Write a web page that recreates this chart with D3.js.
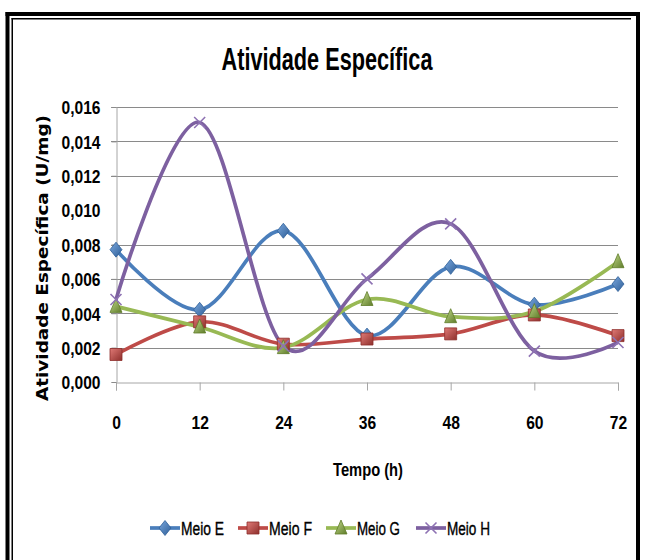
<!DOCTYPE html>
<html>
<head>
<meta charset="utf-8">
<script src="https://cdn.jsdelivr.net/npm/d3@7"></script>
<style>
  html, body { margin: 0; padding: 0; background: #fff; }
  svg { display: block; }
</style>
</head>
<body>
<svg id="chart" width="646" height="560"></svg>
<script>
// Tempo de cultivo (h)
const hours = [0, 12, 24, 36, 48, 60, 72];

// Atividade específica (U/mg) por meio de cultivo
const meioE = [0.0077, 0.0042, 0.0088, 0.0027, 0.0067, 0.0045, 0.0057];
const meioF = [0.0016, 0.0035, 0.0022, 0.0025, 0.0028, 0.0039, 0.0027];
const meioG = [0.0044, 0.0032, 0.0020, 0.0048, 0.0038, 0.0041, 0.0070];
const meioH = [0.0048, 0.0151, 0.0021, 0.0060, 0.0092, 0.0018, 0.0023];

const seriesNames = ["Meio E", "Meio F", "Meio G", "Meio H"];
const yTicks = [0, 0.002, 0.004, 0.006, 0.008, 0.010, 0.012, 0.014, 0.016];

const seriesValues = [meioE, meioF, meioG, meioH];
const lineColors = ["#4A7EBB", "#BE4B48", "#98B954", "#7D60A0"];
const markerKinds = ["diamond", "square", "triangle", "x"];

const svg = d3.select("#chart");
const W = 646, H = 560;

const narrow = "'Liberation Sans Narrow', 'Arial Narrow', 'Liberation Sans', Arial, sans-serif";

// fit a text element to a given width
function fit(sel, w) {
  sel.attr("textLength", w).attr("lengthAdjust", "spacingAndGlyphs");
}

// page frame (thick-thin border)
const frame = svg.append("g").attr("fill", "#000");
frame.append("rect").attr("x", 5.5).attr("y", 12).attr("width", 4).attr("height", H - 12);
frame.append("rect").attr("x", 11.5).attr("y", 18).attr("width", 1.5).attr("height", H - 18);
frame.append("rect").attr("x", 5.5).attr("y", 12).attr("width", 636 - 5.5).attr("height", 4);
frame.append("rect").attr("x", 11.5).attr("y", 18).attr("width", 631 - 11.5).attr("height", 1.5);
frame.append("rect").attr("x", 636).attr("y", 12).attr("width", 4).attr("height", H - 12);

// scales
const x = d3.scalePoint().domain(hours).range([116, 618]);
const y = d3.scaleLinear().domain([0, 0.016]).range([382, 107]);

const locale = d3.formatLocale({ decimal: ",", thousands: ".", grouping: [3], currency: ["R$", ""] });
const fmt = locale.format(".3f");

// title
svg.append("text")
  .attr("x", 327).attr("y", 70)
  .attr("text-anchor", "middle")
  .attr("font-family", narrow)
  .attr("font-size", 32)
  .attr("font-weight", "bold")
  .attr("fill", "#000")
  .text("Atividade Específica")
  .call(fit, 211);

// horizontal gridlines
const grid = svg.append("g");
grid.selectAll("line")
  .data(yTicks.filter(t => t > 0 && Math.abs(t - 0.010) > 1e-9))
  .join("line")
  .attr("x1", 111).attr("x2", 618)
  .attr("y1", d => Math.round(y(d)) + 0.5).attr("y2", d => Math.round(y(d)) + 0.5)
  .attr("stroke", "#8a8a8a").attr("stroke-width", 1);

// y axis
const yAxis = svg.append("g")
  .attr("transform", "translate(116.5,0)")
  .call(d3.axisLeft(y).tickValues(yTicks).tickFormat(fmt).tickSize(5).tickPadding(11));
yAxis.select(".domain").attr("stroke", "#a6a6a6");
yAxis.selectAll(".tick line").attr("stroke", "#8a8a8a")
  .attr("opacity", d => Math.abs(d - 0.010) < 1e-9 ? 0 : 1);
yAxis.selectAll(".tick text")
  .attr("font-family", narrow).attr("font-size", 19).attr("font-weight", "bold")
  .attr("fill", "#000").attr("dy", "0.36em")
  .call(fit, 39);

// x axis
const xAxis = svg.append("g")
  .attr("transform", "translate(0,382.5)")
  .call(d3.axisBottom(x).tickSize(8).tickPadding(25));
xAxis.select(".domain").attr("stroke", "#a6a6a6");
xAxis.selectAll(".tick line").attr("stroke", "#a6a6a6");
xAxis.selectAll(".tick text")
  .attr("font-family", narrow).attr("font-size", 19).attr("font-weight", "bold")
  .attr("fill", "#000")
  .each(function(d) { d3.select(this).call(fit, String(d).length * 8.7); });

// axis titles
svg.append("text")
  .attr("transform", "translate(48,258) rotate(-90)")
  .attr("text-anchor", "middle")
  .attr("font-family", "'DejaVu Sans', Verdana, sans-serif")
  .attr("font-weight", "bold").attr("font-size", 15.5)
  .attr("fill", "#000")
  .text("Atividade Específica (U/mg)")
  .call(fit, 286);

svg.append("text")
  .attr("x", 368).attr("y", 476)
  .attr("text-anchor", "middle")
  .attr("font-family", narrow).attr("font-size", 19)
  .attr("font-weight", "bold")
  .attr("fill", "#000")
  .text("Tempo (h)")
  .call(fit, 70);

// marker gradients
const defs = svg.append("defs");
const gradStops = [
  ["#7AA7DD", "#2F5F98"],
  ["#E07A76", "#8E2F2C"],
  ["#C2DA8A", "#5F7C2A"],
  ["#9F86BE", "#5E4580"]
];
gradStops.forEach((s, i) => {
  const g = defs.append("linearGradient").attr("id", "mk" + i)
    .attr("x1", "0").attr("y1", "0").attr("x2", "1").attr("y2", "1");
  g.append("stop").attr("offset", "0%").attr("stop-color", s[0]);
  g.append("stop").attr("offset", "100%").attr("stop-color", s[1]);
});

function markerPath(kind) {
  switch (kind) {
    case "diamond": return "M0,-7.5L6,0L0,7.5L-6,0Z";
    case "square": return "M-6,-6H6V6H-6Z";
    case "triangle": return "M0,-8L6,6L-6,6Z";
    default: return "M-5.5,-5.5L5.5,5.5M5.5,-5.5L-5.5,5.5";
  }
}

function drawMarker(g, kind, i) {
  if (kind === "x") {
    g.append("path").attr("d", markerPath(kind))
      .attr("fill", "none").attr("stroke", "#8E72B3").attr("stroke-width", 1.6);
  } else {
    g.append("path").attr("d", markerPath(kind))
      .attr("fill", `url(#mk${i})`).attr("stroke", gradStops[i][1]).attr("stroke-width", 0.8);
  }
}

// smoothed lines
const line = d3.line()
  .x((d, j) => x(hours[j]))
  .y(d => y(d))
  .curve(d3.curveCardinal.tension(0));

const plot = svg.append("g");
seriesValues.forEach((vals, i) => {
  plot.append("path")
    .datum(vals)
    .attr("d", line)
    .attr("fill", "none")
    .attr("stroke", lineColors[i])
    .attr("stroke-width", 3.7)
    .attr("stroke-linejoin", "round");
});
seriesValues.forEach((vals, i) => {
  vals.forEach((v, j) => {
    const g = plot.append("g").attr("transform", `translate(${x(hours[j])},${y(v)})`);
    drawMarker(g, markerKinds[i], i);
  });
});

// legend
const legendX = [150, 238, 326, 416];
const legend = svg.append("g");
seriesNames.forEach((name, i) => {
  const g = legend.append("g").attr("transform", `translate(${legendX[i]},528)`);
  g.append("line").attr("x1", 0).attr("x2", 30).attr("y1", 0).attr("y2", 0)
    .attr("stroke", lineColors[i]).attr("stroke-width", 3.7);
  const m = g.append("g").attr("transform", "translate(15,0)");
  drawMarker(m, markerKinds[i], i);
  g.append("text").attr("x", 31).attr("y", 6.5)
    .attr("font-family", narrow).attr("font-size", 18)
    .attr("fill", "#000")
    .attr("stroke", "#000").attr("stroke-width", 0.35)
    .text(name)
    .call(fit, 43);
});
</script>
</body>
</html>
